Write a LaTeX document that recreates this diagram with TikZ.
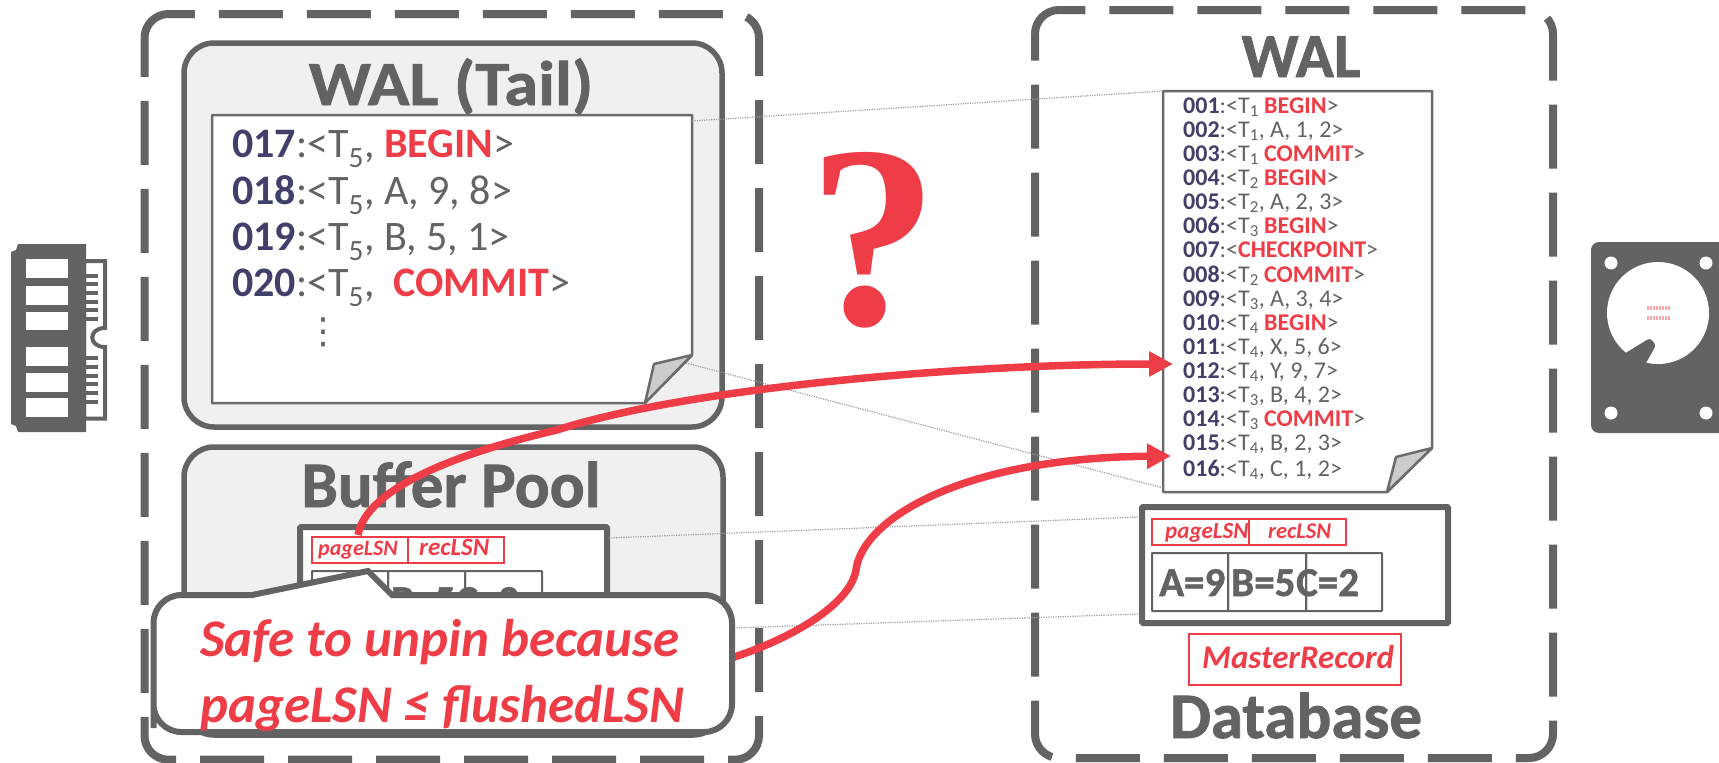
\documentclass[tikz,border=0pt]{standalone}
\usepackage{fontspec}
\setmainfont{Carlito}
\newfontfamily\qfont{Liberation Serif}
\newfontfamily\dotsfont{DejaVu Sans}
\newfontfamily\heavyfont[UprightFont=*-Bold,UprightFeatures={FakeBold=1.2}]{Carlito}
\newfontfamily\widefont[UprightFont=*-Bold,UprightFeatures={FakeBold=1.2,FakeStretch=1.09}]{Carlito}
\usetikzlibrary{arrows.meta}
\definecolor{dk}{HTML}{636363}
\definecolor{rd}{HTML}{EF3D47}
\definecolor{nv}{HTML}{40406B}
\definecolor{pane}{HTML}{F0F0F0}
\definecolor{foldc}{HTML}{CCCCCC}
\definecolor{dotc}{HTML}{9C9C9C}
\newcommand{\fs}[1]{\fontsize{#1}{#1}\selectfont}
\newcommand{\nm}[1]{\textbf{\textcolor{nv}{#1}}}
\newcommand{\kw}[1]{\textbf{\textcolor{rd}{#1}}}
\newcommand{\Tn}[1]{T\textsubscript{#1}}
\tikzset{
  outerbox/.style={draw=dk,line width=8pt,dash pattern=on 64pt off 24pt,rounded corners=24pt},
  panebox/.style={draw=dk,fill=pane,line width=5.5pt,rounded corners=30pt,outer sep=0pt,inner sep=0pt},
  paperbox/.style={draw=dk!95,fill=white,line width=2.5pt,line join=round},
  foldbox/.style={draw=dk!95,fill=foldc,line width=2.5pt,line join=round},
  pagebox/.style={draw=dk,fill=white,line width=6pt,rounded corners=1pt,outer sep=0pt,inner sep=0pt},
  cellbox/.style={draw=dk,line width=2pt,outer sep=0pt,inner sep=0pt,rounded corners=.5pt},
  redbox/.style={draw=rd,line width=2pt,outer sep=0pt,inner sep=0pt},
  title/.style={text=dk,font=\heavyfont\fs{63},inner sep=0pt,anchor=base},
  bigline/.style={text=dk,font=\fs{42},inner sep=0pt,anchor=base west},
  logline/.style={text=dk,font=\fs{24},inner sep=0pt,anchor=base west},
  celltext/.style={text=dk,font=\heavyfont\fs{41},inner sep=0pt,anchor=base west},
  lsntext/.style={text=rd,inner sep=0pt,anchor=base west},
  calltext/.style={text=rd,font=\fs{53}\bfseries\itshape,inner sep=0pt,anchor=base west},
  dotline/.style={draw=dotc,line width=1.2pt,dash pattern=on 1.2pt off 1.2pt},
  redarrow/.style={draw=rd,line width=7.5pt,-{Triangle[length=24pt,width=24pt]}},
  icon/.style={fill=dk,draw=none},
}
\begin{document}
\begin{tikzpicture}[x=1pt,y=-1pt]
\useasboundingbox (0,0) rectangle (1719,763);
% outer dashed boxes
\draw[outerbox] (144.5,38) -- (144.5,14) -- (759,14) -- (759,759.7) -- (144.5,759.7) -- (144.5,38);
\draw[outerbox] (1035,34) -- (1035,10) -- (1553,10) -- (1553,758) -- (1035,758) -- (1035,34);
% WAL tail
\node[panebox,minimum width=538pt,minimum height=384pt] (tailbox) at (453,235) {};
\node[title,font=\widefont\fs{63}] (tailtitle) at (451,105) {WAL (Tail)};
\coordinate (tp1) at (692,121);
\coordinate (tp2) at (686,363);
\draw[paperbox] (212,115) -- (692,115) -- (692,355) -- (645,403) -- (212,403) -- cycle;
\draw[foldbox] (692,355) -- (654,364) -- (645,403) -- cycle;
\node[bigline] (t17) at (232,157) {\nm{017}:<\Tn{5}, \kw{BEGIN}>};
\node[bigline] (t18) at (232,204) {\nm{018}:<\Tn{5}, A, 9, 8>};
\node[bigline] (t19) at (232,250) {\nm{019}:<\Tn{5}, B, 5, 1>};
\node[bigline] (t20) at (232,296) {\nm{020}:<\Tn{5},~ \kw{COMMIT}>};
\node[text=dk,inner sep=0pt,font=\dotsfont\fs{36}] (tdots) at (323,332) {⋮};
% Buffer pool
\node[panebox,minimum width=539pt,minimum height=288pt] (bufbox) at (453.5,591) {};
\node[title,font=\heavyfont\fs{65}] (buftitle) at (451,507) {Buffer Pool};
\node[pagebox,minimum width=307pt,minimum height=116pt] (bufpage) at (453.5,585) {};
\node[redbox,minimum width=96pt,minimum height=26pt] (bufpl) at (360,550) {};
\node[redbox,minimum width=96pt,minimum height=26pt] (bufrl) at (456,550) {};
\node[lsntext,font=\fs{22}\bfseries\itshape] (bufplt) at (318,555) {pageLSN};
\node[lsntext,font=\fs{25}\bfseries\itshape] (bufrlt) at (419,555) {recLSN};
\node[cellbox,minimum width=76pt,minimum height=58pt] (bufc1) at (350,600) {};
\node[cellbox,minimum width=77pt,minimum height=58pt] (bufc2) at (426.5,600) {};
\node[cellbox,minimum width=77pt,minimum height=58pt] (bufc3) at (503.5,600) {};
\node[celltext] (bufa) at (319,614) {A=9};
\node[celltext] (bufb) at (391,614) {B=5};
\node[celltext] (bufcc) at (456,614) {C=2};
% disk WAL
\node[title] (waltitle) at (1301,77) {WAL};
\coordinate (dp1) at (1163,91);
\coordinate (dp2) at (1163,488);
\draw[paperbox] (1163,91) -- (1432,91) -- (1432,448) -- (1387,492) -- (1163,492) -- cycle;
\draw[foldbox] (1432,448) -- (1396,457) -- (1387,492) -- cycle;
\node[logline] (l01) at (1183,113) {\nm{001}:<\Tn{1} \kw{BEGIN}>};
\node[logline] (l02) at (1183,137) {\nm{002}:<\Tn{1}, A, 1, 2>};
\node[logline] (l03) at (1183,161) {\nm{003}:<\Tn{1} \kw{COMMIT}>};
\node[logline] (l04) at (1183,185) {\nm{004}:<\Tn{2} \kw{BEGIN}>};
\node[logline] (l05) at (1183,209) {\nm{005}:<\Tn{2}, A, 2, 3>};
\node[logline] (l06) at (1183,233) {\nm{006}:<\Tn{3} \kw{BEGIN}>};
\node[logline] (l07) at (1183,257) {\nm{007}:<\kw{CHECKPOINT}>};
\node[logline] (l08) at (1183,282) {\nm{008}:<\Tn{2} \kw{COMMIT}>};
\node[logline] (l09) at (1183,306) {\nm{009}:<\Tn{3}, A, 3, 4>};
\node[logline] (l10) at (1183,330) {\nm{010}:<\Tn{4} \kw{BEGIN}>};
\node[logline] (l11) at (1183,354) {\nm{011}:<\Tn{4}, X, 5, 6>};
\node[logline] (l12) at (1183,378) {\nm{012}:<\Tn{4}, Y, 9, 7>};
\node[logline] (l13) at (1183,402) {\nm{013}:<\Tn{3}, B, 4, 2>};
\node[logline] (l14) at (1183,426) {\nm{014}:<\Tn{3} \kw{COMMIT}>};
\node[logline] (l15) at (1183,450) {\nm{015}:<\Tn{4}, B, 2, 3>};
\node[logline] (l16) at (1183,476) {\nm{016}:<\Tn{4}, C, 1, 2>};
% database page
\node[pagebox,minimum width=306pt,minimum height=116pt] (dbpage) at (1295,565) {};
\node[redbox,minimum width=97pt,minimum height=26pt] (dbpl) at (1200.5,532) {};
\node[redbox,minimum width=97pt,minimum height=26pt] (dbrl) at (1297.5,532) {};
\node[lsntext,font=\fs{23}\bfseries\itshape] (dbplt) at (1165,538) {pageLSN};
\node[lsntext,font=\fs{22.5}\bfseries\itshape] (dbrlt) at (1268,538) {recLSN};
\node[cellbox,minimum width=76pt,minimum height=58pt] (dbc1) at (1190,582) {};
\node[cellbox,minimum width=78pt,minimum height=58pt] (dbc2) at (1267,582) {};
\node[cellbox,minimum width=76pt,minimum height=58pt] (dbc3) at (1344,582) {};
\node[celltext] (dba) at (1159,596) {A=9};
\node[celltext] (dbb) at (1231,596) {B=5};
\node[celltext] (dbcc) at (1296,596) {C=2};
\node[redbox,minimum width=212pt,minimum height=51pt] (master) at (1295,659.5) {};
\node[text=rd,font=\fs{33}\bfseries\itshape,inner sep=0pt,anchor=base west] (mastert) at (1202,668) {MasterRecord};
\node[title,font=\heavyfont\fs{65}] (dbtitle) at (1296,738) {Database};
% question mark
\node[text=rd,font=\qfont\bfseries\fs{260},inner sep=0pt,anchor=base] (qm) at (873,324) {?};
% dotted guide lines
\coordinate (bp1) at (609,538);
\coordinate (bp2) at (734,628);
\coordinate (dbp1) at (1139,517);
\coordinate (dbp2) at (1139,614);
\draw[dotline] (tp1) -- (dp1);
\draw[dotline] (tp2) -- (dp2);
\draw[dotline] (bp1) -- (dbp1);
\draw[dotline] (bp2) -- (dbp2);
% red arrows
\coordinate (a1s) at (358,535);
\coordinate (a1m) at (557,430);
\coordinate (a1e) at (1173,364);
\draw[redarrow] (a1s) .. controls (366,490) and (450,455) .. (a1m) .. controls (680,390) and (950,364) .. (a1e);
\coordinate (a2s) at (725,660);
\coordinate (a2m) at (856,570);
\coordinate (a2e) at (1171,456);
\draw[redarrow] (a2s) .. controls (790,640) and (850,605) .. (a2m) .. controls (862,520) and (960,458) .. (a2e);
% callout
\draw[draw=dk,fill=white,line width=6pt,rounded corners=28pt]
  (153.5,700) -- (153.5,595) [sharp corners] -- (252,595) -- (368,571) -- (392,595) [rounded corners=28pt] -- (732,595) -- (732,732) -- (153.5,732) -- cycle;
\node[calltext] (c1) at (200,656) {Safe to unpin because};
\node[calltext] (c2) at (200,722) {pageLSN ≤ flushedLSN};
% RAM icon
\draw[draw=dk,fill=white,line width=4pt,line join=miter] (84,261) -- (105,261) -- (105,328) .. controls (88,328) and (88,347) .. (105,347) -- (105,418.5) -- (84,418.5) -- cycle;
\fill[icon] (11,252) -- (16,250) -- (18,244) -- (86,244) -- (86,432) -- (18,432) -- (16,426) -- (11,424) -- cycle;
\foreach \yy in {276,284,293,302,310,319,358,367,376,384,393,402} \fill[icon] (85,\yy-2) rectangle (98,\yy+2);
\foreach \ya/\yb in {259/278,286/305,312/330,347/366,373/392,398/417} \fill[white] (26,\ya) rectangle (68,\yb);
% HDD icon
\fill[icon,rounded corners=8pt] (1719,242) -- (1591,242) -- (1591,433) -- (1719,433);
\fill[white] (1658,313) circle[radius=51];
\foreach \hx/\hy in {1611/263,1706/263,1611/413,1706/413} \fill[white] (\hx,\hy) circle[radius=6.5];
\fill[icon,rounded corners=3pt] (1624,354) -- (1650,338) -- (1656,345) -- (1645,365) -- (1635,385) -- (1610,375) -- cycle;
\draw[rd!45,line width=3.5pt,dash pattern=on 2pt off 1pt] (1647,308) -- (1671,308);
\draw[rd!45,line width=3.5pt,dash pattern=on 2pt off 1pt] (1647,318) -- (1671,318);
\end{tikzpicture}
\end{document}
